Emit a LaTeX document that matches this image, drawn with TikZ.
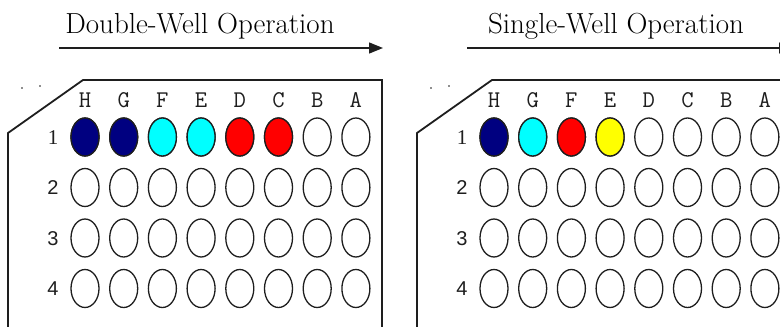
\documentclass[tikz,border=0pt]{standalone}
\usepackage{fontspec}
\usetikzlibrary{shapes.geometric,arrows.meta}
\newfontfamily\lsans{Liberation Sans}
\newfontfamily\lserif{Liberation Serif}
\definecolor{navyw}{RGB}{0,0,128}
\definecolor{cyanw}{RGB}{0,255,255}
\definecolor{redw}{RGB}{255,0,0}
\definecolor{yelw}{RGB}{255,255,0}
\definecolor{inkc}{RGB}{30,30,30}
\tikzset{
  well/.style={ellipse,draw=inkc,line width=1.3pt,minimum width=28pt,minimum height=38pt,inner sep=0pt,fill=white},
  plate/.style={draw=inkc,line width=1.8pt},
  title/.style={font=\fontsize{29}{34}\selectfont,anchor=base},
  col/.style={font=\ttfamily\fontsize{24}{26}\selectfont,text=inkc,anchor=base},
  rowlab/.style={font=\lsans\fontsize{20}{22}\selectfont,text=inkc,anchor=base},
  rowone/.style={font=\lserif\fontsize{21}{22}\selectfont,text=inkc,anchor=base},
  flow/.style={draw=inkc,line width=1.3pt,-{Triangle[length=14pt,width=11pt]}},
  speck/.style={fill=inkc,circle,inner sep=0pt,minimum size=1.6pt}
}
\begin{document}
\begin{tikzpicture}[x=1pt,y=-1pt]
\fill[white] (0,0) rectangle (780,327);
\useasboundingbox (0,0) rectangle (780,327);
\begin{scope}
\clip (0,0) rectangle (780,327);
% titles and arrows
\node[title] (t1) at (200,33) {Double-Well Operation};
\node[title] (t2) at (616,33) {Single-Well Operation};
\coordinate (a1s) at (59,48); \coordinate (a1e) at (383,48);
\coordinate (a2s) at (467,48); \coordinate (a2e) at (793,48);
\draw[flow] (a1s) -- (a1e);
\draw[flow] (a2s) -- (a2e);
% plates
\foreach \p/\dx in {1/0,2/409}{
  \begin{scope}[xshift=\dx]
    \draw[plate] (8,340) -- (8,133) -- (83,80) -- (382,80) -- (382,340);
    \node[speck] (d\p a) at (22,88) {};
    \node[speck] (d\p b) at (40,86) {};
    \foreach \c [count=\i from 0] in {H,G,F,E,D,C,B,A}{
      \node[col] (c\p\c) at (85+38.7*\i,107) {\c};
    }
    \node[rowone] (r\p1) at (53,144) {1};
    \foreach \r in {2,3,4}{
      \node[rowlab] (r\p\r) at (53,144+50.5*\r-50.5) {\r};
    }
    \foreach \r in {1,2,3,4}{
      \foreach \c [count=\i from 0] in {H,G,F,E,D,C,B,A}{
        \node[well] (w\p\r\c) at (85+38.7*\i,137+50.5*\r-50.5) {};
      }
    }
  \end{scope}
}
% colours of row 1
\node[well,fill=navyw] at (w11H) {};
\node[well,fill=navyw] at (w11G) {};
\node[well,fill=cyanw] at (w11F) {};
\node[well,fill=cyanw] at (w11E) {};
\node[well,fill=redw] at (w11D) {};
\node[well,fill=redw] at (w11C) {};
\node[well,fill=navyw] at (w21H) {};
\node[well,fill=cyanw] at (w21G) {};
\node[well,fill=redw] at (w21F) {};
\node[well,fill=yelw] at (w21E) {};
\end{scope}
\end{tikzpicture}
\end{document}
